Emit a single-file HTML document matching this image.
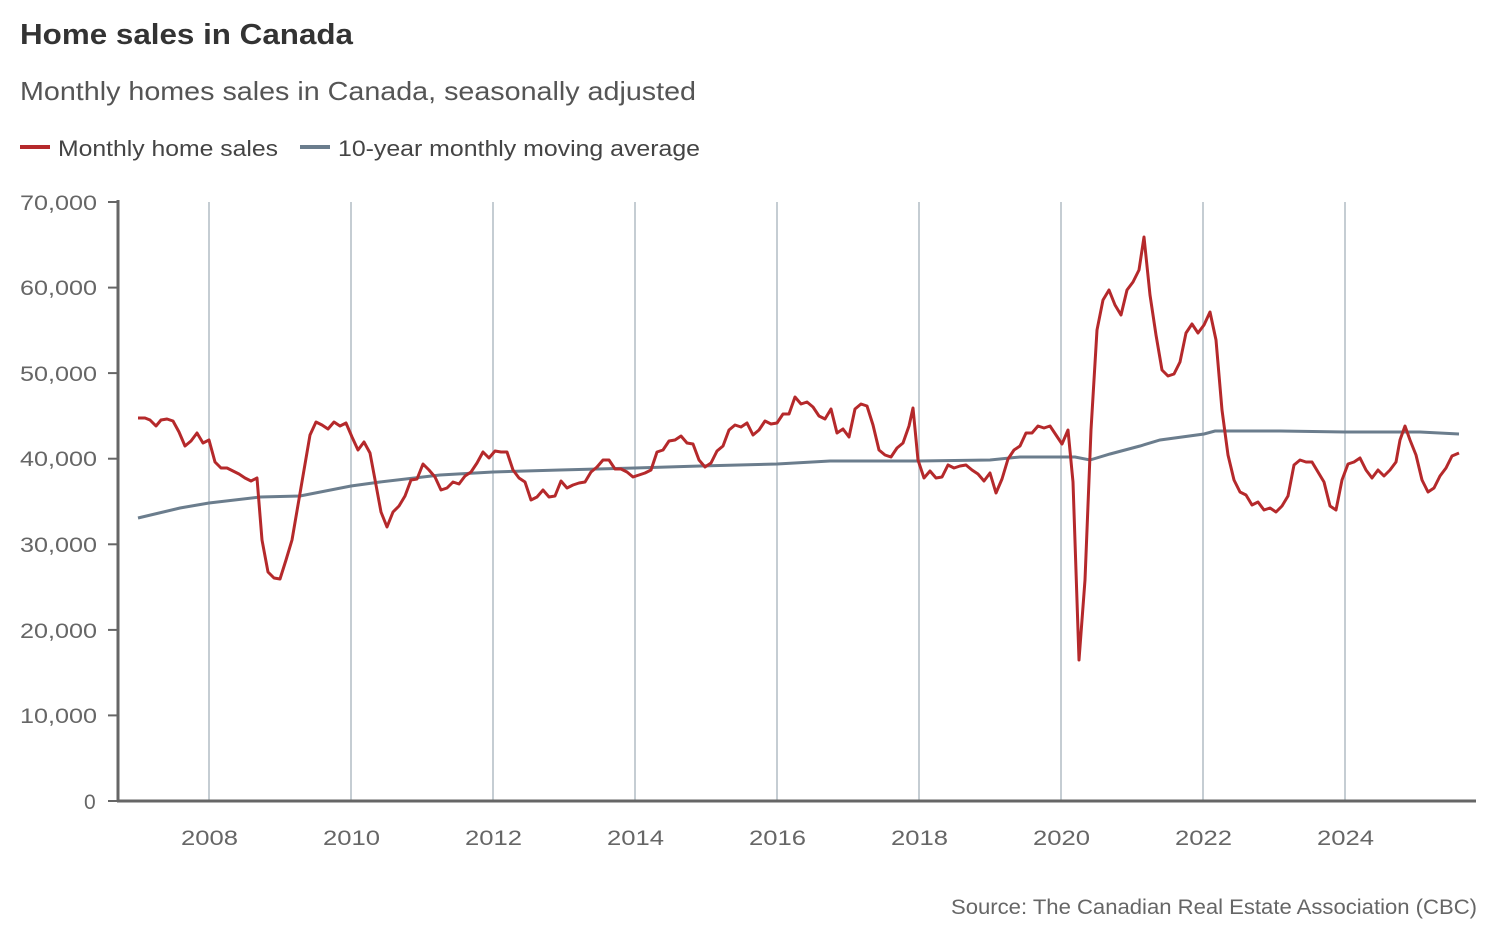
<!DOCTYPE html>
<html><head><meta charset="utf-8"><style>
body{margin:0;background:#fff;width:1494px;height:932px;overflow:hidden;font-family:"Liberation Sans",sans-serif}
</style></head><body>
<svg width="1494" height="932" xmlns="http://www.w3.org/2000/svg" font-family="Liberation Sans, sans-serif">
<text x="20" y="44" font-size="29" font-weight="bold" fill="#333" textLength="333" lengthAdjust="spacingAndGlyphs">Home sales in Canada</text>
<text x="20" y="100" font-size="26" fill="#555" textLength="676" lengthAdjust="spacingAndGlyphs">Monthly homes sales in Canada, seasonally adjusted</text>
<line x1="20" y1="147" x2="50" y2="147" stroke="#b5292b" stroke-width="4"/>
<text x="58" y="156" font-size="22" fill="#444" textLength="220" lengthAdjust="spacingAndGlyphs">Monthly home sales</text>
<line x1="300" y1="147" x2="330" y2="147" stroke="#6b7d8d" stroke-width="4"/>
<text x="338" y="156" font-size="22" fill="#444" textLength="362" lengthAdjust="spacingAndGlyphs">10-year monthly moving average</text>
<g stroke="#c5cdd3" stroke-width="2">
<line x1="209" y1="202" x2="209" y2="801"/><line x1="351" y1="202" x2="351" y2="801"/><line x1="493" y1="202" x2="493" y2="801"/><line x1="635" y1="202" x2="635" y2="801"/><line x1="777" y1="202" x2="777" y2="801"/><line x1="919" y1="202" x2="919" y2="801"/><line x1="1061" y1="202" x2="1061" y2="801"/><line x1="1203" y1="202" x2="1203" y2="801"/><line x1="1345" y1="202" x2="1345" y2="801"/>
</g>
<g stroke="#666" stroke-width="3"><line x1="118" y1="200" x2="118" y2="802"/><line x1="117" y1="801" x2="1476" y2="801"/>
<line x1="108" y1="202" x2="118" y2="202" stroke-width="2"/><line x1="108" y1="287.6" x2="118" y2="287.6" stroke-width="2"/><line x1="108" y1="373.1" x2="118" y2="373.1" stroke-width="2"/><line x1="108" y1="458.7" x2="118" y2="458.7" stroke-width="2"/><line x1="108" y1="544.3" x2="118" y2="544.3" stroke-width="2"/><line x1="108" y1="629.9" x2="118" y2="629.9" stroke-width="2"/><line x1="108" y1="715.4" x2="118" y2="715.4" stroke-width="2"/><line x1="108" y1="801" x2="118" y2="801" stroke-width="2"/></g>
<g font-size="21" fill="#666">
<text x="20" y="210" textLength="77" lengthAdjust="spacingAndGlyphs">70,000</text><text x="20" y="295" textLength="77" lengthAdjust="spacingAndGlyphs">60,000</text><text x="20" y="381" textLength="77" lengthAdjust="spacingAndGlyphs">50,000</text><text x="20" y="466" textLength="77" lengthAdjust="spacingAndGlyphs">40,000</text><text x="20" y="552" textLength="77" lengthAdjust="spacingAndGlyphs">30,000</text><text x="20" y="638" textLength="77" lengthAdjust="spacingAndGlyphs">20,000</text><text x="20" y="723" textLength="77" lengthAdjust="spacingAndGlyphs">10,000</text><text x="84" y="809">0</text>
</g>
<g font-size="21" fill="#666">
<text x="181" y="845" textLength="57" lengthAdjust="spacingAndGlyphs">2008</text><text x="323" y="845" textLength="57" lengthAdjust="spacingAndGlyphs">2010</text><text x="465" y="845" textLength="57" lengthAdjust="spacingAndGlyphs">2012</text><text x="607" y="845" textLength="57" lengthAdjust="spacingAndGlyphs">2014</text><text x="749" y="845" textLength="57" lengthAdjust="spacingAndGlyphs">2016</text><text x="891" y="845" textLength="57" lengthAdjust="spacingAndGlyphs">2018</text><text x="1033" y="845" textLength="57" lengthAdjust="spacingAndGlyphs">2020</text><text x="1175" y="845" textLength="57" lengthAdjust="spacingAndGlyphs">2022</text><text x="1317" y="845" textLength="57" lengthAdjust="spacingAndGlyphs">2024</text>
</g>
<polyline fill="none" stroke="#6b7d8d" stroke-width="3" points="138,518 180,508 209,503 260,497 300,496 351,486 380,482 440,475 493,472 560,470 635,468 700,466 777,464 830,461 919,461 990,460 1020,457 1075,457 1090,460 1110,454 1140,446 1160,440 1204,434 1215,431 1280,431 1345,432 1420,432 1459,434"/>
<polyline fill="none" stroke="#b5292b" stroke-width="3" stroke-linejoin="round" points="138,418 145,418 150,420 156,426 161,420 167,419 173,421 179,432 185,446 191,441 197,433 203,443 209,440 215,462 221,468 227,468 233,471 239,474 245,478 251,481 257,478 262,540 268,572 274,578 280,579 286,560 292,540 298,505 304,470 310,435 316,422 322,425 328,429 334,422 340,426 346,423 352,437 358,450 364,442 370,453 376,485 381,512 387,527 393,512 399,506 405,496 411,480 417,479 423,464 429,470 435,477 441,490 447,488 453,482 459,484 465,476 471,472 477,463 483,452 489,458 495,451 501,452 507,452 513,470 519,478 525,482 531,500 537,497 543,490 549,497 555,496 561,481 567,488 573,485 579,483 585,482 591,472 597,467 603,460 609,460 615,469 621,469 627,472 633,477 639,475 645,473 651,470 657,452 663,450 669,441 675,440 681,436 687,443 693,444 699,460 705,467 711,463 717,451 723,446 729,430 735,425 741,427 747,423 753,435 759,430 765,421 771,424 777,423 783,414 789,414 795,397 801,404 807,402 813,407 819,416 825,419 831,409 837,433 843,429 849,437 855,409 861,404 867,406 873,425 879,450 885,455 891,457 897,448 903,443 909,426 913,408 918,460 924,478 930,471 936,478 942,477 948,465 954,468 960,466 966,465 972,470 978,474 984,481 990,473 996,493 1002,479 1008,459 1014,450 1020,446 1026,433 1032,433 1038,426 1044,428 1050,426 1056,435 1062,444 1068,430 1073,482 1079,660 1085,580 1091,430 1097,330 1103,300 1109,290 1115,305 1121,315 1127,290 1133,282 1139,270 1144,237 1150,295 1156,335 1162,370 1168,376 1174,374 1180,362 1186,333 1192,324 1198,333 1204,325 1210,312 1216,340 1222,410 1228,455 1234,480 1240,492 1246,495 1252,505 1258,502 1264,510 1270,508 1276,512 1282,506 1288,496 1294,465 1300,460 1306,462 1312,462 1318,472 1324,482 1330,506 1336,510 1342,480 1348,464 1354,462 1360,458 1366,470 1372,478 1378,470 1384,476 1390,470 1396,462 1400,440 1405,426 1410,440 1416,455 1422,480 1428,492 1434,488 1440,476 1446,468 1452,456 1459,453"/>
<text x="951" y="914" font-size="21" fill="#666" textLength="526" lengthAdjust="spacingAndGlyphs">Source: The Canadian Real Estate Association (CBC)</text>
</svg>
</body></html>
